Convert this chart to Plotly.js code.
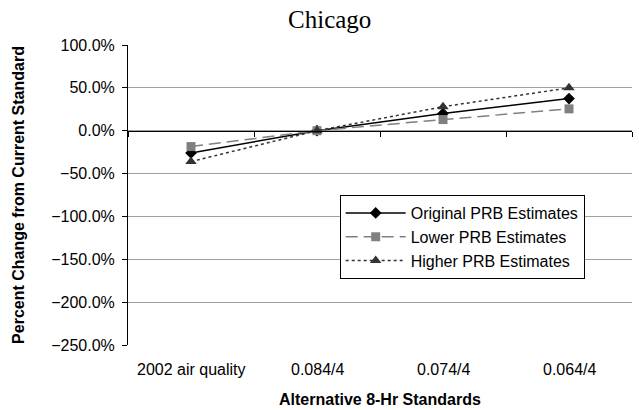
<!DOCTYPE html>
<html><head><meta charset="utf-8">
<script src="https://cdn.plot.ly/plotly-3.0.1.min.js"></script>
<style>body{margin:0;padding:0;background:#fff}</style>
</head><body>
<div id="chart" style="width:639px;height:410px"></div>
<script>
const categories = ["2002 air quality", "0.084/4", "0.074/4", "0.064/4"];
const originalPRB = [-26, 0, 20, 37.5];
const lowerPRB = [-18.5, 0, 13, 25.5];
const higherPRB = [-36, 0, 28, 50];
const seriesNames = ["Original PRB Estimates", "Lower PRB Estimates", "Higher PRB Estimates"];
const xTitle = 'Alternative 8-Hr Standards';
const yTitle = 'Percent Change from Current Standard';

const FONT = 'Liberation Sans, Arial, sans-serif';

const traces = [
  {x: categories, y: originalPRB, name: seriesNames[0], type: 'scatter', mode: 'lines+markers',
   line: {color: '#000000', width: 1.5, dash: 'solid'},
   marker: {symbol: 'diamond', size: 9, color: '#000000'}},
  {x: categories, y: lowerPRB, name: seriesNames[1], type: 'scatter', mode: 'lines+markers',
   line: {color: '#808080', width: 1.5, dash: '12px,6px'},
   marker: {symbol: 'square', size: 9, color: '#808080'}},
  {x: categories, y: higherPRB, name: seriesNames[2], type: 'scatter', mode: 'lines+markers',
   line: {color: '#333333', width: 1.5, dash: 'dot'},
   marker: {symbol: 'triangle-up', size: 10, color: '#333333'}}
];

// category labels at the bottom of the plot area (x follows the category axis)
const catLabels = categories.map(c => ({
  x: c, xref: 'x', y: 0, yref: 'paper', yanchor: 'top', yshift: -14,
  text: c, showarrow: false, font: {family: FONT, size: 16, color: '#000'}
}));
const xTitleAnn = {
  x: 0.5, xref: 'paper', y: 0, yref: 'paper', yanchor: 'top', yshift: -44,
  text: '<b>' + xTitle + '</b>', showarrow: false, font: {family: FONT, size: 16, color: '#000'}
};

const layout = {
  width: 639, height: 410,
  margin: {l: 128, r: 7, t: 45, b: 65},
  paper_bgcolor: '#ffffff', plot_bgcolor: '#ffffff',
  title: {text: 'Chicago', x: 0.516, xanchor: 'center', y: 0.975, yanchor: 'top',
          font: {family: 'Liberation Serif, Times New Roman, serif', size: 25, color: '#000'}},
  font: {family: FONT, size: 16, color: '#000'},
  showlegend: true,
  legend: {x: 0.42, y: 0.5, xanchor: 'left', yanchor: 'top',
           bgcolor: '#ffffff', bordercolor: '#000000', borderwidth: 1,
           font: {family: FONT, size: 16, color: '#000'},
           tracegroupgap: 0, itemwidth: 60},
  annotations: catLabels.concat([xTitleAnn]),
  xaxis: {type: 'category', categoryarray: categories, range: [-0.5, 3.5],
          anchor: 'free', position: 250/350, tickson: 'boundaries',
          showticklabels: false, ticks: 'outside', ticklen: 5, tickcolor: '#000', tickwidth: 1,
          showgrid: false, zeroline: false, showline: true, linecolor: '#000', linewidth: 1},
  yaxis: {range: [-250, 100], dtick: 50, tickformat: '.1f', ticksuffix: '%',
          showgrid: true, gridcolor: '#a0a0a0', gridwidth: 1,
          zeroline: false,
          showline: true, linecolor: '#000', linewidth: 1,
          ticks: 'outside', ticklen: 5, tickcolor: '#000',
          ticklabelstandoff: 4,
          tickfont: {size: 16, color: '#000'},
          title: {text: yTitle, standoff: 22,
                  font: {size: 16, color: '#000', family: FONT, weight: 'bold'}}}
};

Plotly.newPlot('chart', traces, layout, {displayModeBar: false, staticPlot: true});
</script>
</body></html>
